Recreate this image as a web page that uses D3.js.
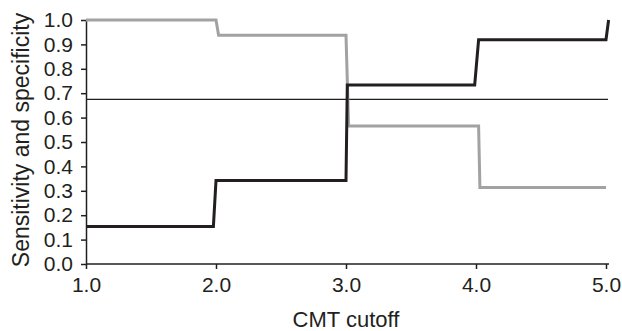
<!DOCTYPE html>
<html>
<head>
<meta charset="utf-8">
<script src="https://cdn.jsdelivr.net/npm/d3@7"></script>
<style>
  body { margin: 0; background: #fff; }
  svg { display: block; }
  text { font-family: "Liberation Sans", Arial, sans-serif; fill: #231f20; }
</style>
</head>
<body>
<script>
// step curves (cutoff, value)
var sensX = [1.0, 1.98, 2.0, 3.0, 3.01, 3.99, 4.02, 5.0, 5.02];
var sensY = [0.154, 0.154, 0.342, 0.342, 0.734, 0.734, 0.919, 0.919, 1.0];

var specX = [1.0, 2.0, 2.02, 3.0, 3.02, 4.02, 4.03, 5.0];
var specY = [1.0, 1.0, 0.937, 0.937, 0.566, 0.566, 0.314, 0.314];

var refLine = 0.675;

var xTicks = [1, 2, 3, 4, 5];
var yTicks = [0, 0.1, 0.2, 0.3, 0.4, 0.5, 0.6, 0.7, 0.8, 0.9, 1.0];

var W = 622, H = 331;
var m = {left: 86, right: 16, top: 20, bottom: 67};

var svg = d3.select("body").append("svg")
    .attr("width", W).attr("height", H);

var x = d3.scaleLinear().domain([1, 5]).range([m.left, W - m.right]);
var y = d3.scaleLinear().domain([0, 1]).range([H - m.bottom, m.top]);

// axes
var xAxis = svg.append("g")
    .attr("transform", "translate(0," + y(0) + ")")
    .call(d3.axisBottom(x).tickValues(xTicks).tickSize(5).tickPadding(8)
      .tickFormat(d3.format(".1f")).tickSizeOuter(0));

var yAxis = svg.append("g")
    .attr("transform", "translate(" + x(1) + ",0)")
    .call(d3.axisLeft(y).tickValues(yTicks).tickSize(5).tickPadding(8)
      .tickFormat(d3.format(".1f")).tickSizeOuter(0));

[xAxis, yAxis].forEach(function(a){
  a.select(".domain").attr("stroke", "#231f20").attr("stroke-width", 1.5);
  a.selectAll(".tick line").attr("stroke", "#231f20").attr("stroke-width", 1.5);
  a.selectAll(".tick text").style("font-size", "21px")
    .style("font-family", "'Liberation Sans', Arial, sans-serif").attr("fill", "#231f20");
});

// the x axis line runs a little past 5.0
xAxis.select(".domain").attr("d", "M" + x(1) + ",0H" + (x(5) + 3));

// reference line
svg.append("line")
    .attr("x1", x(1)).attr("x2", x(5) + 2)
    .attr("y1", y(refLine)).attr("y2", y(refLine))
    .attr("stroke", "#231f20").attr("stroke-width", 1.3);

var line = d3.line()
    .x(function(d){ return x(d[0]); })
    .y(function(d){ return y(d[1]); });

svg.append("path")
    .datum(d3.zip(specX, specY))
    .attr("d", line)
    .attr("fill", "none")
    .attr("stroke", "#a2a2a2")
    .attr("stroke-width", 3);

svg.append("path")
    .datum(d3.zip(sensX, sensY))
    .attr("d", line)
    .attr("fill", "none")
    .attr("stroke", "#231f20")
    .attr("stroke-width", 3);

// labels
svg.append("text")
    .attr("x", (x(1) + x(5)) / 2)
    .attr("y", 326.5)
    .attr("text-anchor", "middle")
    .style("font-size", "22px")
    .text("CMT cutoff");

svg.append("text")
    .attr("transform", "translate(28.5,140) rotate(-90)")
    .attr("text-anchor", "middle")
    .style("font-size", "23px")
    .text("Sensitivity and specificity");
</script>
</body>
</html>
